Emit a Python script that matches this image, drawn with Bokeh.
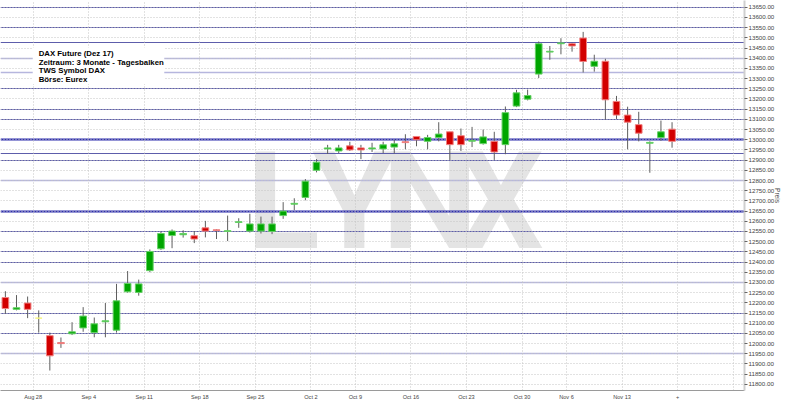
from bokeh.plotting import figure
from bokeh.models import FixedTicker, SingleIntervalTicker, PrintfTickFormatter, Range1d, ColumnDataSource
from bokeh.embed import file_html
from bokeh.resources import INLINE
from bokeh.core.properties import value

# ---- data (daily candles, DAX Future Dez 17) ----
dates = ["Aug 23", "Aug 24", "Aug 25", "Aug 28", "Aug 29", "Aug 30", "Aug 31", "Sep 1",
         "Sep 4", "Sep 5", "Sep 6", "Sep 7", "Sep 8", "Sep 11", "Sep 12", "Sep 13", "Sep 14", "Sep 15",
         "Sep 18", "Sep 19", "Sep 20", "Sep 21", "Sep 22", "Sep 25", "Sep 26", "Sep 27", "Sep 28", "Sep 29",
         "Oct 2", "Oct 4", "Oct 5", "Oct 6", "Oct 9", "Oct 10", "Oct 11", "Oct 12", "Oct 13",
         "Oct 16", "Oct 17", "Oct 18", "Oct 19", "Oct 20", "Oct 23", "Oct 24", "Oct 25", "Oct 26", "Oct 27",
         "Oct 30", "Nov 1", "Nov 2", "Nov 3", "Nov 6", "Nov 7", "Nov 8", "Nov 9", "Nov 10",
         "Nov 13", "Nov 14", "Nov 15", "Nov 16", "Nov 17"]
opens = [12226, 12168, 12199, 12125, 12039, 12005, 12048, 12077,
         12054, 12107, 12066, 12254, 12251, 12358, 12465, 12530, 12534, 12529,
         12568, 12558, 12550, 12594, 12552, 12552, 12550, 12628, 12684, 12717,
         12850, 12955, 12945, 12970, 12960, 12955, 12955, 12964, 12990,
         13016, 12992, 13011, 13039, 13020, 12993, 12981, 12992, 12976, 13165,
         13199, 13322, 13430, 13471, 13471, 13499, 13360, 13385, 13188,
         13121, 13074, 12983, 13011, 13052]
highs = [12257, 12238, 12231, 12163, 12054, 12030, 12105, 12179,
         12128, 12199, 12293, 12356, 12314, 12462, 12550, 12560, 12556, 12552,
         12602, 12560, 12628, 12615, 12637, 12623, 12623, 12694, 12713, 12807,
         12905, 12975, 12975, 12990, 12975, 12985, 12990, 13000, 13027,
         13016, 13024, 13086, 13039, 13055, 13063, 13050, 13039, 13163, 13245,
         13246, 13482, 13460, 13498, 13476, 13529, 13417, 13397, 13215,
         13162, 13137, 12992, 13094, 13086]
lows = [12147, 12163, 12125, 12054, 11868, 11979, 12042, 12058,
        12031, 12031, 12054, 12250, 12235, 12350, 12460, 12468, 12520, 12493,
        12521, 12513, 12503, 12568, 12545, 12540, 12537, 12612, 12655, 12703,
        12840, 12930, 12935, 12945, 12905, 12940, 12935, 12933, 12953,
        12968, 12953, 12992, 12901, 12945, 12964, 12976, 12901, 12929, 13160,
        13193, 13303, 13392, 13419, 13432, 13330, 13334, 13099, 13102,
        12953, 12992, 12838, 12995, 12961]
closes = [12172, 12176, 12168, 12125, 11940, 12000, 12058, 12135,
          12097, 12112, 12210, 12295, 12293, 12452, 12540, 12552, 12540, 12513,
          12552, 12555, 12554, 12598, 12587, 12587, 12587, 12650, 12688, 12797,
          12890, 12960, 12960, 12950, 12950, 12960, 12975, 12980, 12986,
          13000, 13011, 13028, 12976, 12976, 12997, 13014, 12940, 13133, 13230,
          13217, 13471, 13434, 13475, 13460, 13384, 13385, 13196, 13121,
          13086, 13032, 12987, 13039, 12992]

week_ticks = [2.5, 7.5, 12.5, 17.5, 22.5, 27.5, 31.5, 36.5, 41.5, 46.5, 50.5, 55.5, 60.5, 65.5]
week_labels = ["Aug 28", "Sep 4", "Sep 11", "Sep 18", "Sep 25", "Oct 2", "Oct 9", "Oct 16",
               "Oct 23", "Oct 30", "Nov 6", "Nov 13", "+", ""]

level_lines = [13650, 13550, 13475, 13250, 13150, 13100, 12932, 12900,
               12550, 12450, 12400, 12150, 12050]
light_lines = [13400, 13330, 12800, 12300, 11950]
main_lines = [13000, 12650]

info_lines = ["DAX Future (Dez 17)", "Zeitraum: 3 Monate - Tagesbalken", "TWS Symbol DAX", "Börse: Eurex"]
watermark = ["L", "Y", "N", "X"]

# ---- figure ----
p = figure(width=784, height=402, x_range=Range1d(-0.44, 66.52), y_range=Range1d(11770, 13683),
           y_axis_location="right", output_backend="svg", toolbar_location=None,
           min_border_left=0, min_border_top=0, min_border_right=0, min_border_bottom=0)
p.outline_line_color = None

# grids
p.xaxis.ticker = FixedTicker(ticks=week_ticks)
p.xaxis.major_label_overrides = {t: lab for t, lab in zip(week_ticks, week_labels)}
p.yaxis.ticker = SingleIntervalTicker(interval=50, num_minor_ticks=0)
p.yaxis.formatter = PrintfTickFormatter(format="%.2f")
for g in (p.xgrid, p.ygrid):
    g.grid_line_color = "#c4c4c4"
    g.grid_line_dash = "1 2"
    g.grid_line_width = 1

# axes
p.yaxis.axis_line_color = "#cfcfcf"
p.yaxis.axis_line_width = 2
p.yaxis.major_tick_out = 3
p.yaxis.major_tick_in = 0
p.yaxis.major_tick_line_color = "#666666"
p.yaxis.minor_tick_out = 0
p.yaxis.major_label_text_font = "Liberation Sans"
p.yaxis.major_label_text_font_size = "6.2px"
p.yaxis.major_label_text_color = "#444444"
p.yaxis.major_label_standoff = 1
p.yaxis.axis_label = "Preis"
p.yaxis.axis_label_text_font = "Liberation Sans"
p.yaxis.axis_label_text_font_size = "6.5px"
p.yaxis.axis_label_text_font_style = "normal"
p.yaxis.axis_label_text_color = "#444444"
p.yaxis.axis_label_standoff = -3

p.xaxis.axis_line_color = "#9a9a9a"
p.xaxis.major_tick_out = 0
p.xaxis.major_tick_in = 0
p.xaxis.minor_tick_out = 0
p.xaxis.major_label_text_font = "Liberation Sans"
p.xaxis.major_label_text_font_size = "5.6px"
p.xaxis.major_label_text_color = "#444444"
p.xaxis.major_label_standoff = 3

# watermark
p.text(x=[25.0, 31.4, 38.2, 44.6], y=[12694] * 4, text=watermark,
       text_font=value("Roboto"), text_font_style="bold", text_font_size="135px",
       text_color="#e4e4e4", text_align="center", text_baseline="middle", level="image")

# horizontal level lines
p.hspan(y=light_lines, line_color="#b6b6de", line_width=1.5, level="underlay")
p.hspan(y=level_lines, line_color="#5d5dab", line_width=1.2, level="underlay")
p.hspan(y=main_lines, line_color="#2c2cae", line_width=2, level="underlay")

# candles
idx = list(range(len(dates)))
fills, borders = [], []
for o, c in zip(opens, closes):
    if c > o:
        fills.append("#00a600"); borders.append("#66d066")
    elif c < o:
        fills.append("#d20000"); borders.append("#f08080")
    else:
        fills.append("#f0f000"); borders.append("#f4f480")
src = ColumnDataSource(dict(x=idx, o=opens, h=highs, l=lows, c=closes,
                            top=[max(o, c) for o, c in zip(opens, closes)],
                            bottom=[min(o, c) for o, c in zip(opens, closes)],
                            fill=fills, border=borders))
p.segment(x0="x", y0="h", x1="x", y1="l", line_color="#5e5e5e", line_width=1, source=src)
p.vbar(x="x", width=0.6, top="top", bottom="bottom", fill_color="fill", line_color="border",
       line_width=1, source=src)

# info box
p.quad(left=[2.46], right=[14.3], top=[13452], bottom=[13273], fill_color="white", line_color=None)
p.text(x=[3.0] * 4, y=[13424, 13380, 13338, 13295], text=info_lines,
       text_font=value("Liberation Sans"), text_font_style="bold", text_font_size="7.8px",
       text_color="#000000", text_align="left", text_baseline="middle")

open("out.html", "w").write(file_html(p, INLINE))
